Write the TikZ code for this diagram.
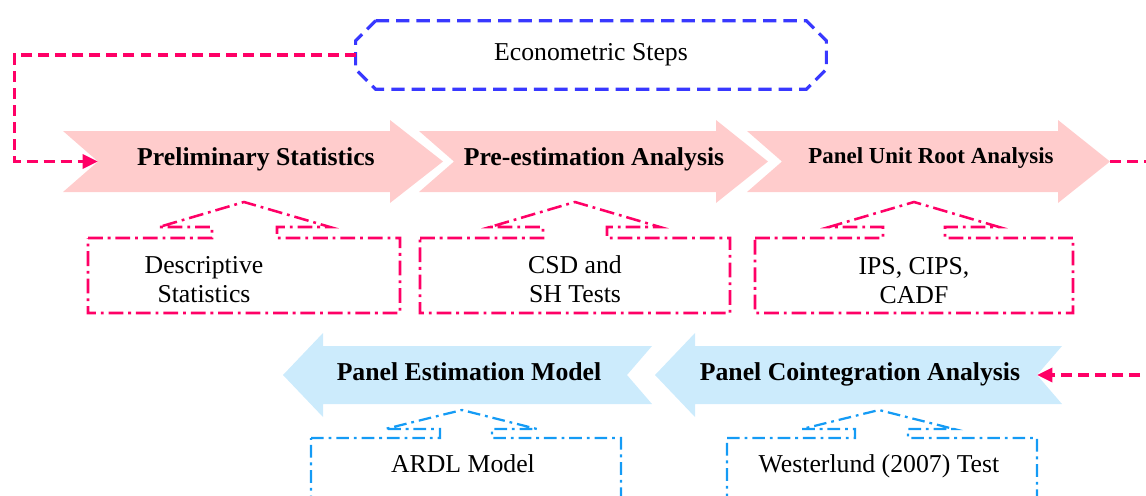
\documentclass[tikz,border=0pt]{standalone}
\usepackage{fontspec}
\setmainfont{Liberation Serif}
\usetikzlibrary{arrows.meta,
	positioning}

\definecolor{stepsblue}{RGB}{56,56,255}
\definecolor{linkpink}{RGB}{255,0,102}
\definecolor{fillpink}{RGB}{255,204,204}
\definecolor{fillblue}{RGB}{204,235,252}
\definecolor{noteblue}{RGB}{20,155,245}

\tikzset{
	link/.style={draw=linkpink, line width=2.4pt, dash pattern=on 7.8pt off 4.3pt, -{Triangle[length=11pt,width=10pt]}},
	headbox/.style={minimum width=11.75cm, minimum height=1.7cm, inner sep=0pt},
	headline/.style={draw=stepsblue, line width=2.2pt, dash pattern=on 9.5pt off 5pt},
	pinknote/.style={draw=linkpink, line width=1.8pt, dash pattern=on 10.5pt off 3.5pt on 2pt off 3.5pt},
	bluenote/.style={draw=noteblue, line width=1.6pt, dash pattern=on 9pt off 3.5pt on 2pt off 3.5pt},
	steptext/.style={font=\fontsize{18.3}{20.5}\selectfont\bfseries, anchor=base},
	notetext/.style={align=center, anchor=base}
}

\begin{document}
\begin{tikzpicture}[x=0.025cm, y=-0.025cm, font=\fontsize{18.3}{20.5}\selectfont]
	\useasboundingbox (0,0) rectangle (1146,495);
	\clip (0,0) rectangle (1146,495);

	\node[headbox] (econ) at (591,55) {Econometric Steps};
	\draw[headline] ([xshift=0.5cm]econ.north west) -- ([xshift=-0.5cm]econ.north east) -- ([yshift=-0.5cm]econ.north east)
		-- ([yshift=0.5cm]econ.south east) -- ([xshift=-0.5cm]econ.south east) -- ([xshift=0.5cm]econ.south west)
		-- ([yshift=0.5cm]econ.south west) -- ([yshift=-0.5cm]econ.north west) -- cycle;

	% first row of steps
	\fill[fillpink] (63,131) -- (390,131) -- (390,120) -- (443,161.5) -- (390,203) -- (390,192) -- (63,192) -- (98,161.5) -- cycle;
	\fill[fillpink] (419,131) -- (716,131) -- (716,120) -- (768,161.5) -- (716,203) -- (716,192) -- (419,192) -- (454,161.5) -- cycle;
	\fill[fillpink] (747,131) -- (1058,131) -- (1058,120) -- (1110,161.5) -- (1058,203) -- (1058,192) -- (747,192) -- (782,161.5) -- cycle;
	\coordinate (prelimIn) at (98,161.5);
	\coordinate (unitOut) at (1110,161.5);
	\node[steptext] (prelim) at (256,165) {Preliminary Statistics};
	\node[steptext] (preest) at (594,165) {Pre-estimation Analysis};
	\node[steptext, font=\fontsize{16.3}{20}\selectfont\bfseries] (unitroot) at (931,163) {Panel Unit Root Analysis};

	% second row, going back
	\fill[fillblue] (1062,346) -- (1037,375) -- (1062,404) -- (695,404) -- (695,417) -- (655,375) -- (695,333) -- (695,346) -- cycle;
	\fill[fillblue] (652,346) -- (627,375) -- (652,404) -- (323,404) -- (323,417) -- (283,375) -- (323,333) -- (323,346) -- cycle;
	\coordinate (cointIn) at (1037,375);
	\node[steptext] (coint) at (860,380) {Panel Cointegration Analysis};
	\node[steptext] (model) at (469,380) {Panel Estimation Model};

	% connectors
	\draw[link] (econ.west) -- ++(-341,0) |- (prelimIn);
	\draw[link] (unitOut) -- ++(70,0) |- (cointIn);

	% notes below the steps
	\draw[pinknote] (88,238) -- (212,238) -- (212,227) -- (159,227) -- (244,202) -- (330,227) -- (277,227) -- (277,238) -- (400,238) -- (400,313) -- (88,313) -- cycle;
	\draw[pinknote] (420,238) -- (543,238) -- (543,227) -- (490,227) -- (575,202) -- (660,227) -- (607,227) -- (607,238) -- (730,238) -- (730,313) -- (420,313) -- cycle;
	\draw[pinknote] (755,238) -- (883,238) -- (883,227) -- (829,227) -- (914,202) -- (999,227) -- (945,227) -- (945,238) -- (1073,238) -- (1073,313) -- (755,313) -- cycle;
	\draw[bluenote] (311,438) -- (440,438) -- (440,429) -- (385,429) -- (462,410) -- (537,429) -- (492,429) -- (492,438) -- (621,438) -- (621,520) -- (311,520) -- cycle;
	\draw[bluenote] (727,438) -- (855,438) -- (855,429) -- (802,429) -- (879,410) -- (954,429) -- (908,429) -- (908,438) -- (1037,438) -- (1037,520) -- (727,520) -- cycle;

	% base of a two-line node is its last line
	\node[notetext] (descr) at (204,302) {Descriptive\\Statistics};
	\node[notetext] (csd) at (575,302) {CSD and\\SH Tests};
	\node[notetext] (ips) at (914,303) {IPS, CIPS,\\CADF};
	\node[notetext] (ardl) at (463,472) {ARDL Model};
	\node[notetext] (westerl) at (879,472) {Westerlund (2007) Test};
\end{tikzpicture}
\end{document}
